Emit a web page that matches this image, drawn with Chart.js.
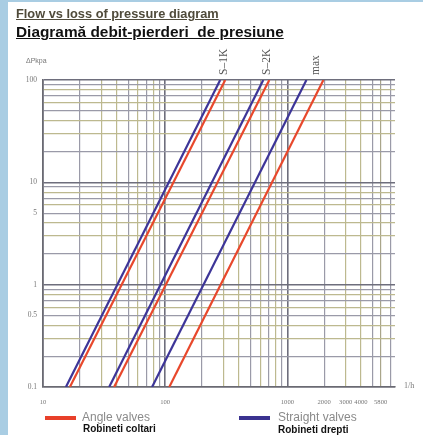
<!DOCTYPE html>
<html><head><meta charset="utf-8">
<script src="https://cdn.jsdelivr.net/npm/chart.js@4/dist/chart.umd.min.js"></script>
<style>
html,body{margin:0;padding:0;background:#fff;width:423px;height:435px;overflow:hidden;font-family:Arial,"Liberation Sans",sans-serif;}
#wrap{position:relative;width:423px;height:435px;}
#leftbar{position:absolute;left:0;top:0;width:8px;height:435px;background:#a9cde3;}
#topbar{position:absolute;left:0;top:0;width:423px;height:2px;background:#a9cde3;}
#c{position:absolute;left:0;top:0;}
.t1{position:absolute;left:16px;top:6px;font:bold 12.8px Arial,"Liberation Sans",sans-serif;color:#4f4a3a;text-decoration:underline;white-space:nowrap;}
.t2{position:absolute;left:16px;top:23px;font:bold 15.4px Arial,"Liberation Sans",sans-serif;color:#111;text-decoration:underline;white-space:nowrap;}
.lg-line{position:absolute;height:4px;width:31px;}
.lg-a{position:absolute;font:12px Arial,"Liberation Sans",sans-serif;color:#8a8a8a;white-space:nowrap;}
.lg-b{position:absolute;font:bold 10px Arial,"Liberation Sans",sans-serif;color:#111;white-space:nowrap;}
</style></head>
<body><div id="wrap">
<canvas id="c" width="423" height="435"></canvas>
<div id="leftbar"></div><div id="topbar"></div>
<div class="t1">Flow vs loss of pressure diagram</div>
<div class="t2">Diagramă debit-pierderi&nbsp; de presiune</div>
<div class="lg-line" style="left:45px;top:416px;background:#e8402a;"></div>
<div class="lg-a" style="left:82px;top:410px;">Angle valves</div>
<div class="lg-b" style="left:83px;top:423px;">Robineti coltari</div>
<div class="lg-line" style="left:239px;top:416px;background:#3a3290;"></div>
<div class="lg-a" style="left:278px;top:410px;">Straight valves</div>
<div class="lg-b" style="left:278px;top:424px;">Robineti drepti</div>
</div>
<script>
// ---- data ----
const curveNames = ['S–1K', 'S–2K', 'max'];
const pressureRange = [0.1, 100];              // ΔP kPa at bottom / top of each curve
const straightFlowBottom = [15.4, 34.8, 78.1]; // flow l/h at ΔP = 0.1
const straightFlowTop = [282, 635, 1432];      // flow l/h at ΔP = 100
const angleFlowBottom = [16.6, 38.2, 108];
const angleFlowTop = [310, 711, 1972];
const xGridValues = [10,20,30,40,50,60,70,80,90,100,200,300,400,500,600,700,800,900,1000,2000,3000,4000,5000,5800,7000];
const xTickLabels = ['10','100','1000','2000','3000','4000','5800'];
const yGridValues = [0.1,0.2,0.3,0.4,0.5,0.6,0.7,0.8,0.9,1,2,3,4,5,6,7,8,9,10,20,30,40,50,60,70,80,90,100];
const yTickLabels = ['0.1','0.5','1','5','10','100'];
const xRange = [10, 7600];

const RED = '#e8482c', BLUE = '#3d3598';

function curve(b, t) {
  return [{x: b, y: pressureRange[0]}, {x: t, y: pressureRange[1]}];
}
const datasets = [];
curveNames.forEach((n, i) => {
  datasets.push({label: 'Angle valves ' + n, data: curve(angleFlowBottom[i], angleFlowTop[i]), borderColor: RED});
  datasets.push({label: 'Straight valves ' + n, data: curve(straightFlowBottom[i], straightFlowTop[i]), borderColor: BLUE});
});
datasets.forEach(d => { d.borderWidth = 2.2; d.pointRadius = 0; d.showLine = true; d.fill = false; });

function sig(v) {
  const e = Math.floor(Math.log10(v) + 1e-9);
  return Math.round(v / Math.pow(10, e) * 10) / 10;
}
function gridColor(ctx) {
  const v = ctx.tick && ctx.tick.value;
  if (v == null) return '#888';
  const s = sig(v);
  if (s === 1) return '#6e6e7c';
  if (s === 3 || s === 4 || s === 6 || s === 8) return '#bdb98f';
  if (s === 5.8) return '#a9a58a';
  return '#9a9aa8';
}
function gridWidth(ctx) {
  const v = ctx.tick && ctx.tick.value;
  return (v != null && sig(v) === 1) ? 1.6 : 1.2;
}

const labelPlugin = {
  id: 'labels',
  afterDraw(chart) {
    const c = chart.ctx, xs = chart.scales.x, ys = chart.scales.y;
    c.save();
    c.fillStyle = '#555';
    c.font = '11.5px "Liberation Serif", "DejaVu Serif", serif';
    curveNames.forEach((n, i) => {
      const xv = Math.sqrt(straightFlowTop[i] * angleFlowTop[i]);
      const px = xs.getPixelForValue(xv);
      c.save();
      c.translate(px + 4, ys.getPixelForValue(pressureRange[1]) - 5);
      c.rotate(-Math.PI / 2);
      c.textAlign = 'left';
      c.textBaseline = 'alphabetic';
      c.fillText(n, 0, 0);
      c.restore();
    });
    c.fillStyle = '#777';
    c.font = '7px "Liberation Sans", Arial, sans-serif';
    c.textAlign = 'left';
    c.textBaseline = 'middle';
    c.fillText('ΔPkpa', 26, 61);
    c.font = '8px "Liberation Serif", serif';
    c.fillText('1/h', 404, 386);
    c.restore();
  }
};

new Chart(document.getElementById('c'), {
  type: 'scatter',
  data: {datasets},
  options: {
    responsive: false,
    animation: false,
    events: [],
    layout: {padding: {left: 13, right: 28, top: 80, bottom: 28}},
    plugins: {legend: {display: false}, tooltip: {enabled: false}},
    scales: {
      x: {
        type: 'logarithmic', min: xRange[0], max: xRange[1],
        afterBuildTicks: s => { s.ticks = xGridValues.map(v => ({value: v})); },
        afterFit: s => { s.height = 20; },
        grid: {color: gridColor, lineWidth: gridWidth, drawTicks: false},
        border: {color: '#6a6a72', width: 1.6},
        ticks: {
          autoSkip: false, maxRotation: 0, padding: 11,
          color: '#777', font: {family: '"Liberation Serif", "DejaVu Serif", serif', size: 6.6},
          callback: v => xTickLabels.includes(String(v)) ? String(v) : ''
        }
      },
      y: {
        type: 'logarithmic', min: pressureRange[0], max: pressureRange[1],
        afterBuildTicks: s => { s.ticks = yGridValues.map(v => ({value: v})); },
        afterFit: s => { s.width = 30; },
        grid: {color: gridColor, lineWidth: gridWidth, drawTicks: false},
        border: {color: '#6a6a72', width: 1.6},
        ticks: {
          autoSkip: false, padding: 6,
          color: '#777', font: {family: '"Liberation Serif", "DejaVu Serif", serif', size: 7.5},
          callback: v => yTickLabels.includes(String(v)) ? String(v) : ''
        }
      }
    }
  },
  plugins: [labelPlugin]
});
</script>
</body></html>
